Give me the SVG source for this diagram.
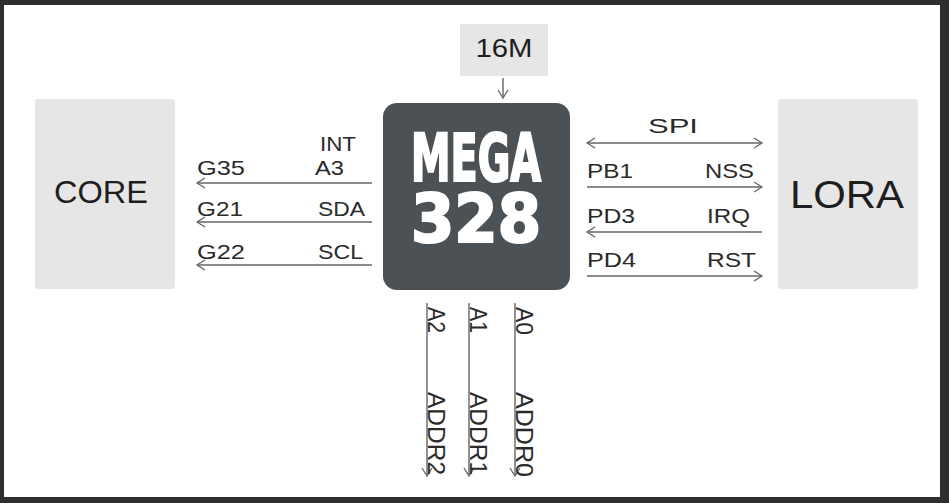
<svg xmlns="http://www.w3.org/2000/svg" width="949" height="503" viewBox="0 0 949 503">
<style>
.box{fill:#e6e6e6}
.lbl{font-family:"Liberation Sans",Arial,sans-serif;fill:#2a2a2a;font-size:21px}
.vl{font-family:"Liberation Sans",Arial,sans-serif;fill:#2a2a2a;font-size:24px}
.big{font-family:"Liberation Sans",Arial,sans-serif;fill:#1e1e1e}
.chip{font-family:"Liberation Sans Narrow","DejaVu Sans Condensed",sans-serif;font-weight:bold;fill:#ffffff;stroke:#ffffff;stroke-width:2.2}
.wire{stroke:#666;stroke-width:1.4;fill:none}
</style>
<defs>
<marker id="ah" markerUnits="userSpaceOnUse" markerWidth="14" markerHeight="14" viewBox="-10 -7 12 14" refX="0" refY="0" orient="auto-start-reverse">
<path d="M-8,-5 L0,0 L-8,5" fill="none" stroke="#666" stroke-width="1.3"/>
</marker>
</defs>
<rect x="0" y="0" width="949" height="503" fill="#2e2e2e"/>
<rect x="4" y="5" width="936" height="492" fill="#ffffff"/>

<g id="clock">
<rect class="box" x="460" y="24" width="88" height="52"/>
<text class="big" x="504" y="57" font-size="26" text-anchor="middle" textLength="57" lengthAdjust="spacingAndGlyphs">16M</text>
</g>
<g id="core">
<rect class="box" x="35" y="99" width="140" height="190" rx="3"/>
<text class="big" x="101" y="203" font-size="31" text-anchor="middle" textLength="94" lengthAdjust="spacingAndGlyphs">CORE</text>
</g>
<g id="lora">
<rect class="box" x="778" y="99" width="140" height="190" rx="3"/>
<text class="big" x="847" y="208" font-size="38" text-anchor="middle" textLength="114" lengthAdjust="spacingAndGlyphs">LORA</text>
</g>
<g id="mega328">
<rect x="383" y="103" width="187" height="187" rx="14" fill="#4b5155"/>
<text class="chip" x="411" y="181" font-size="66" textLength="130" lengthAdjust="spacingAndGlyphs">MEGA</text>
<text class="chip" x="411" y="242" font-size="67" textLength="130" lengthAdjust="spacingAndGlyphs">328</text>
</g>

<g id="connectors">
<line class="wire" x1="503" y1="78" x2="503" y2="98" marker-end="url(#ah)"/>
<line class="wire" x1="372" y1="183" x2="197" y2="183" marker-end="url(#ah)"/>
<line class="wire" x1="372" y1="222" x2="197" y2="222" marker-end="url(#ah)"/>
<line class="wire" x1="372" y1="265" x2="197" y2="265" marker-end="url(#ah)"/>
<line class="wire" x1="587" y1="143" x2="762" y2="143" marker-start="url(#ah)" marker-end="url(#ah)"/>
<line class="wire" x1="587" y1="187" x2="762" y2="187" marker-end="url(#ah)"/>
<line class="wire" x1="762" y1="232" x2="587" y2="232" marker-end="url(#ah)"/>
<line class="wire" x1="587" y1="276" x2="762" y2="276" marker-end="url(#ah)"/>
<line class="wire" x1="427" y1="303" x2="427" y2="476" marker-end="url(#ah)"/>
<line class="wire" x1="469" y1="303" x2="469" y2="476" marker-end="url(#ah)"/>
<line class="wire" x1="515" y1="303" x2="515" y2="476" marker-end="url(#ah)"/>
</g>

<g id="labels">
<text class="lbl" x="320" y="151" textLength="36" lengthAdjust="spacingAndGlyphs">INT</text>
<text class="lbl" x="197" y="175" textLength="48" lengthAdjust="spacingAndGlyphs">G35</text>
<text class="lbl" x="315" y="175" textLength="29" lengthAdjust="spacingAndGlyphs">A3</text>
<text class="lbl" x="197" y="216" textLength="46" lengthAdjust="spacingAndGlyphs">G21</text>
<text class="lbl" x="318" y="216" textLength="47" lengthAdjust="spacingAndGlyphs">SDA</text>
<text class="lbl" x="197" y="259" textLength="48" lengthAdjust="spacingAndGlyphs">G22</text>
<text class="lbl" x="318" y="259" textLength="45" lengthAdjust="spacingAndGlyphs">SCL</text>
<text class="lbl" x="648" y="133" font-size="26" textLength="50" lengthAdjust="spacingAndGlyphs">SPI</text>
<text class="lbl" x="587" y="178" textLength="46" lengthAdjust="spacingAndGlyphs">PB1</text>
<text class="lbl" x="705" y="178" textLength="49" lengthAdjust="spacingAndGlyphs">NSS</text>
<text class="lbl" x="587" y="223" textLength="48" lengthAdjust="spacingAndGlyphs">PD3</text>
<text class="lbl" x="707" y="223" textLength="43" lengthAdjust="spacingAndGlyphs">IRQ</text>
<text class="lbl" x="587" y="267" textLength="49" lengthAdjust="spacingAndGlyphs">PD4</text>
<text class="lbl" x="707" y="267" textLength="49" lengthAdjust="spacingAndGlyphs">RST</text>
<text class="vl" transform="translate(428,307) rotate(90)" textLength="26" lengthAdjust="spacingAndGlyphs">A2</text>
<text class="vl" transform="translate(428,392) rotate(90)" textLength="83" lengthAdjust="spacingAndGlyphs">ADDR2</text>
<text class="vl" transform="translate(470,307) rotate(90)" textLength="26" lengthAdjust="spacingAndGlyphs">A1</text>
<text class="vl" transform="translate(470,392) rotate(90)" textLength="83" lengthAdjust="spacingAndGlyphs">ADDR1</text>
<text class="vl" transform="translate(516,307) rotate(90)" textLength="28" lengthAdjust="spacingAndGlyphs">A0</text>
<text class="vl" transform="translate(516,392) rotate(90)" textLength="85" lengthAdjust="spacingAndGlyphs">ADDR0</text>
</g>
</svg>
